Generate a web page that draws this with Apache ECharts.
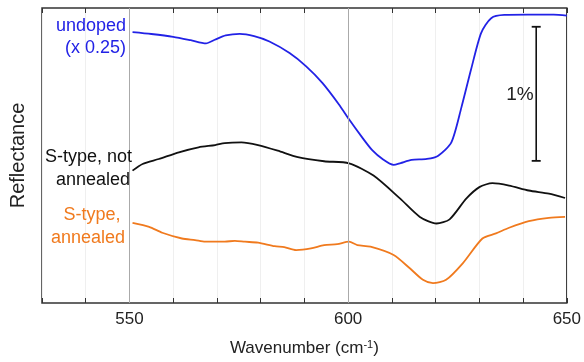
<!DOCTYPE html>
<html>
<head>
<meta charset="utf-8">
<script src="https://cdn.jsdelivr.net/npm/echarts@6/dist/echarts.min.js"></script>
<style>
  html, body { margin: 0; padding: 0; background: #fff; }
  #chart { width: 584px; height: 362px; }
</style>
</head>
<body>
<div id="chart"></div>
<script>
// Reflectance spectra (values in %, offset for display), x in cm^-1
const undoped = [
  [550.7, 2.020], [555, 2.006], [560, 1.985], [564, 1.960], [567.5, 1.936],
  [569.5, 1.963], [572, 1.995], [575.2, 2.007], [578.5, 1.990], [582.0, 1.950],
  [586.6, 1.864], [590.4, 1.765], [594.1, 1.642], [597.9, 1.481], [600.2, 1.370],
  [603.2, 1.235], [605.5, 1.140], [608, 1.070], [610.4, 1.030], [612, 1.044],
  [614.5, 1.067], [618, 1.074], [620.6, 1.099], [623.6, 1.198], [625.9, 1.459],
  [628.1, 1.741], [630.4, 2.013], [632.7, 2.124], [635.7, 2.148], [641, 2.150],
  [647.0, 2.150], [650, 2.143]
];
const sTypeNotAnnealed = [
  [550.7, 0.987], [553.0, 1.037], [556.7, 1.074], [561.3, 1.124], [565.8, 1.161],
  [569.6, 1.178], [571.8, 1.193], [575.6, 1.198], [579.4, 1.178], [583.9, 1.136],
  [588.5, 1.087], [594.5, 1.057], [600.2, 1.042], [605.8, 0.950], [611.9, 0.778],
  [616.4, 0.642], [620.2, 0.593], [623.2, 0.624], [627.0, 0.778], [630.0, 0.864],
  [633.0, 0.894], [636.8, 0.876], [641.3, 0.839], [645.9, 0.815], [649.6, 0.783]
];
const sTypeAnnealed = [
  [550.7, 0.598], [554.5, 0.568], [557.5, 0.524], [562.0, 0.481], [565.0, 0.469],
  [567.3, 0.457], [571.8, 0.457], [574.1, 0.464], [576.4, 0.457], [579.4, 0.450],
  [583.2, 0.424], [585.4, 0.417], [588.1, 0.395], [591.5, 0.407], [594.5, 0.432],
  [597.5, 0.439], [600.2, 0.457], [602.1, 0.432], [605.1, 0.420], [610.4, 0.358],
  [614.1, 0.259], [617.1, 0.173], [619.4, 0.148], [622.4, 0.173], [626.2, 0.296],
  [630.7, 0.481], [633.8, 0.519], [636.8, 0.561], [641.3, 0.610], [645.9, 0.635],
  [649.6, 0.642]
];
// 1 % scale bar
const scaleBar = [[643.0, 1.06], [643.0, 2.06]];
const xTickLabels = [550, 600, 650];
const majorLines = [550, 600];

const FONT = 'Liberation Sans, Arial, sans-serif';
const BLUE = '#2222e6';
const BLACK = '#111111';
const ORANGE = '#f07a1e';
const LW = 1.8;

const chart = echarts.init(document.getElementById('chart'));
chart.setOption({
  animation: false,
  grid: { left: 40, right: 14, top: 8, bottom: 57, show: true, borderColor: '#333', borderWidth: 1.5, backgroundColor: 'transparent' },
  xAxis: [{
    type: 'value', min: 530, max: 650, interval: 10,
    axisLine: { show: false },
    axisTick: { show: true, inside: true, length: 5, lineStyle: { color: '#333', width: 1 } },
    axisLabel: {
      color: '#222', fontFamily: FONT, fontSize: 17, margin: 8,
      formatter: v => (xTickLabels.indexOf(v) >= 0 ? String(v) : '')
    },
    splitLine: { show: true, lineStyle: { color: '#efefef', width: 1 } },
    name: '{a|Wavenumber (cm}{s|-1}{a|)}',
    nameLocation: 'middle', nameGap: 36,
    nameTextStyle: {
      rich: {
        a: { fontFamily: FONT, fontSize: 17, color: '#222' },
        s: { fontFamily: FONT, fontSize: 11, color: '#222', verticalAlign: 'top', padding: [0, 0, 8, 0] }
      }
    }
  }, {
    type: 'value', min: 530, max: 650, interval: 10, position: 'top',
    axisLine: { show: false },
    axisTick: { show: true, inside: true, length: 5, lineStyle: { color: '#333', width: 1 } },
    axisLabel: { show: false },
    splitLine: { show: false }
  }],
  yAxis: {
    type: 'value', min: 0, max: 2.2,
    axisLine: { show: false }, axisTick: { show: false }, axisLabel: { show: false },
    splitLine: { show: false },
    name: 'Reflectance', nameLocation: 'middle', nameGap: 14,
    nameTextStyle: { fontFamily: FONT, fontSize: 20, color: '#222' }
  },
  series: [
    {
      type: 'line', data: sTypeAnnealed, showSymbol: false, smooth: 0.25,
      lineStyle: { color: ORANGE, width: LW }, silent: true,
      markLine: {
        silent: true, symbol: 'none', label: { show: false },
        lineStyle: { color: '#aaa', width: 1, type: 'solid' },
        data: majorLines.map(v => ({ xAxis: v }))
      }
    },
    { type: 'line', data: sTypeNotAnnealed, showSymbol: false, smooth: 0.25, lineStyle: { color: BLACK, width: LW }, silent: true },
    { type: 'line', data: undoped, showSymbol: false, smooth: 0.25, lineStyle: { color: BLUE, width: LW }, silent: true },
    {
      type: 'line', data: scaleBar, symbol: 'rect', symbolSize: [9, 1.8], showSymbol: true,
      itemStyle: { color: BLACK }, lineStyle: { color: BLACK, width: 1.6 }, silent: true
    }
  ],
  graphic: [
    { type: 'text', z: 100, style: { text: '1%', x: 520, y: 95, align: 'center', verticalAlign: 'middle', font: '19px ' + FONT, fill: '#222' } },
    { type: 'text', z: 100, style: { text: 'undoped', x: 126, y: 26, align: 'right', verticalAlign: 'middle', font: '18px ' + FONT, fill: BLUE } },
    { type: 'text', z: 100, style: { text: '(x 0.25)', x: 126, y: 48, align: 'right', verticalAlign: 'middle', font: '18px ' + FONT, fill: BLUE } },
    { type: 'text', z: 100, style: { text: 'S-type, not', x: 132, y: 157, align: 'right', verticalAlign: 'middle', font: '18px ' + FONT, fill: BLACK } },
    { type: 'text', z: 100, style: { text: 'annealed', x: 130, y: 180, align: 'right', verticalAlign: 'middle', font: '18px ' + FONT, fill: BLACK } },
    { type: 'text', z: 100, style: { text: 'S-type,', x: 92, y: 215, align: 'center', verticalAlign: 'middle', font: '18px ' + FONT, fill: ORANGE } },
    { type: 'text', z: 100, style: { text: 'annealed', x: 88, y: 238, align: 'center', verticalAlign: 'middle', font: '18px ' + FONT, fill: ORANGE } }
  ]
});
</script>
</body>
</html>
